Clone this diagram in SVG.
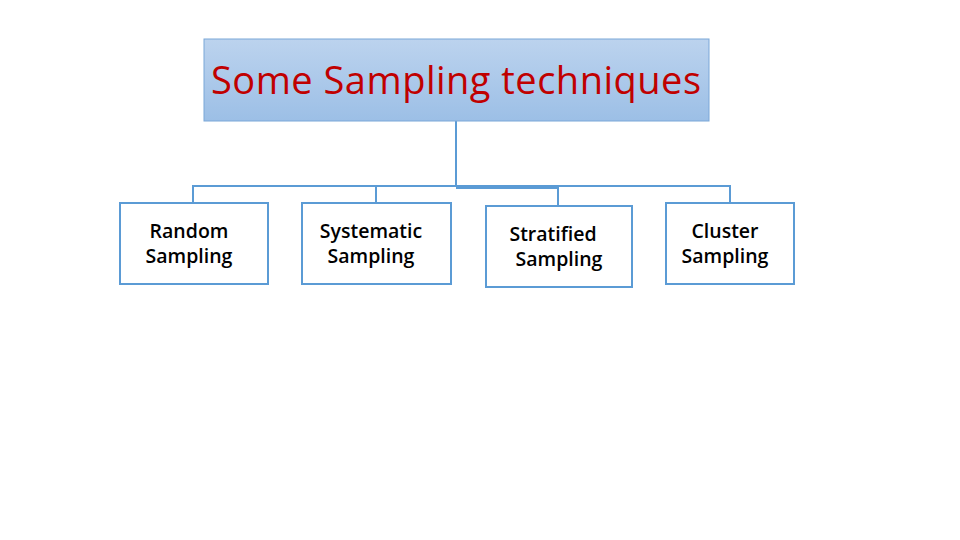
<svg xmlns="http://www.w3.org/2000/svg" width="960" height="540" viewBox="0 0 960 540">
<style>
.box{fill:#fff;stroke:#5b9bd5;stroke-width:2}
.lbl{font-family:"Open Sans","Liberation Sans",sans-serif;font-size:19.5px;font-weight:600;fill:#000;text-anchor:middle}
.conn{fill:none;stroke:#5b9bd5;stroke-width:2}
</style>
<defs><linearGradient id="g" x1="0" y1="0" x2="0" y2="1"><stop offset="0" stop-color="#bcd3ee"/><stop offset="1" stop-color="#9cbfe6"/></linearGradient></defs>
<rect width="960" height="540" fill="#fff"/>
<g id="connectors">
<path class="conn" d="M456 121V186M193 203V186H730V203M376 186V203M456 188H558V206"/>
</g>
<g id="root"><rect x="204" y="39" width="505" height="82" fill="url(#g)" stroke="#7aa7d8" stroke-width="1"/>
<text x="456" y="94" font-family="Open Sans, Liberation Sans, sans-serif" font-size="38" fill="#c00000" text-anchor="middle" textLength="490">Some Sampling techniques</text></g>
<g id="random"><rect class="box" x="120" y="203" width="148" height="81"/><text class="lbl" x="189" y="238">Random</text><text class="lbl" x="189" y="263">Sampling</text></g>
<g id="systematic"><rect class="box" x="302" y="203" width="149" height="81"/><text class="lbl" x="371" y="238">Systematic</text><text class="lbl" x="371" y="263">Sampling</text></g>
<g id="stratified"><rect class="box" x="486" y="206" width="146" height="81"/><text class="lbl" x="553" y="241">Stratified</text><text class="lbl" x="559" y="266">Sampling</text></g>
<g id="cluster"><rect class="box" x="666" y="203" width="128" height="81"/><text class="lbl" x="725" y="238">Cluster</text><text class="lbl" x="725" y="263">Sampling</text></g>
</svg>
